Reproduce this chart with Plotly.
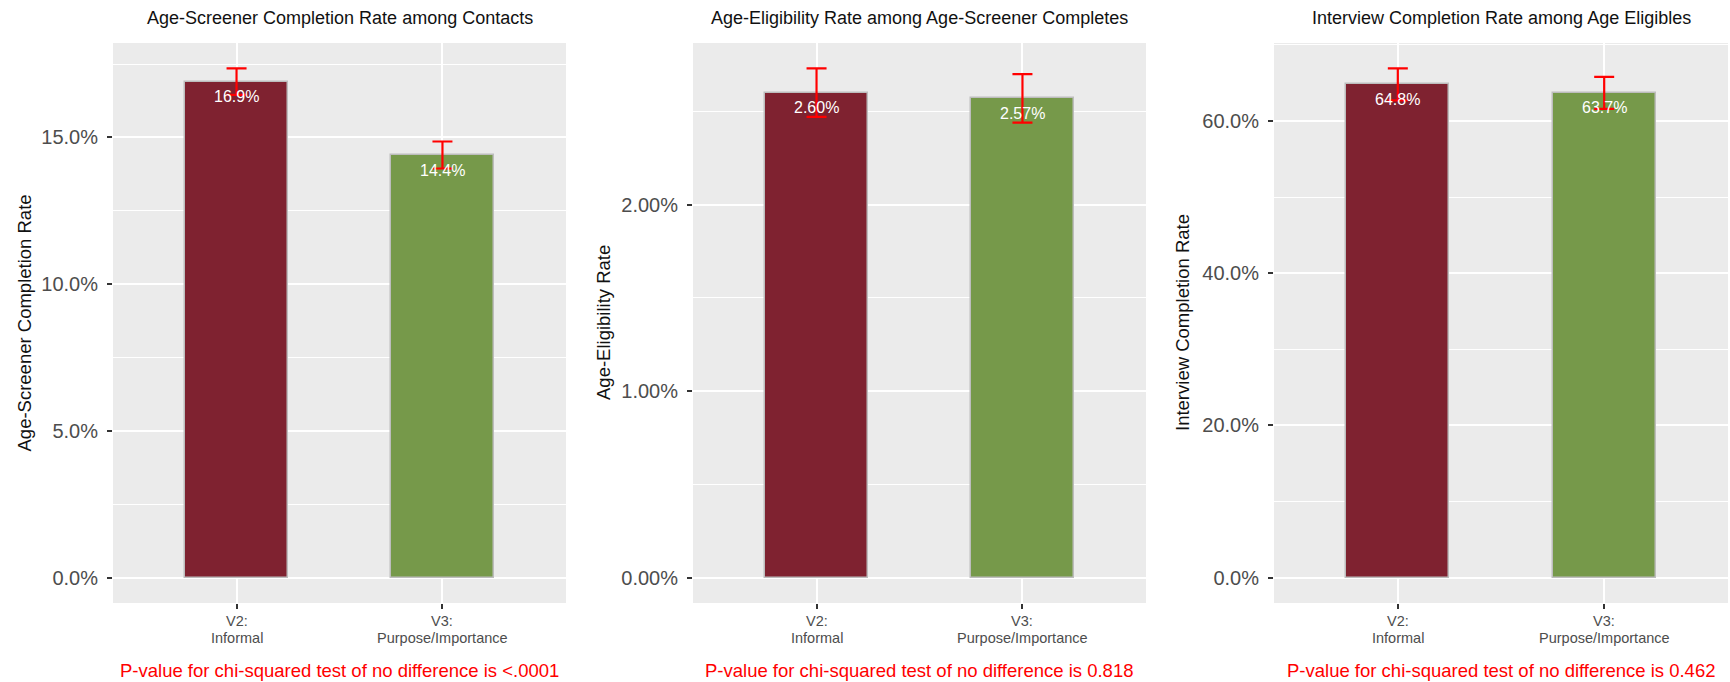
import plotly.graph_objects as go

# ---------------- data ----------------
categories = ["V2:<br>Informal", "V3:<br>Purpose/Importance"]

panel_titles = [
    "Age-Screener Completion Rate among Contacts",
    "Age-Eligibility Rate among Age-Screener Completes",
    "Interview Completion Rate among Age Eligibles",
]
y_titles = [
    "Age-Screener Completion Rate",
    "Age-Eligibility Rate",
    "Interview Completion Rate",
]
p_values = ["<.0001", "0.818", "0.462"]

screener_rate = [16.9, 14.4]
screener_err = [0.45, 0.46]
eligibility_rate = [2.60, 2.57]
eligibility_err = [0.13, 0.13]
interview_rate = [64.8, 63.7]
interview_err = [2.1, 2.1]

# ---------------- styling / layout ----------------
W, H = 1730, 682
FONT = "Liberation Sans, Arial, sans-serif"
bar_colors = ["#7F2230", "#76994A"]
panel_px = [(113, 566), (693, 1146), (1274, 1728)]
plot_top, plot_bottom = 43, 603
decimals = [1, 2, 1]
major_step = [5, 1, 20]
ytitle_x = [23.5, 603, 1182]
xlabel_line_y = [621, 638]

series = [
    (screener_rate, screener_err),
    (eligibility_rate, eligibility_err),
    (interview_rate, interview_err),
]

fig = go.Figure()
annotations = []
layout_axes = {}

for i, (vals, errs) in enumerate(series):
    n = "" if i == 0 else str(i + 1)
    xa, ya = "x" + n, "y" + n
    fig.add_trace(go.Bar(
        x=categories, y=vals, xaxis=xa, yaxis=ya, width=0.5,
        marker=dict(color=bar_colors, line=dict(color="#BDBDBD", width=1.5)),
        error_y=dict(type="data", array=errs, color="red", thickness=2.2, width=10),
        showlegend=False, hoverinfo="skip",
    ))
    ymax = max(v + e for v, e in zip(vals, errs))
    lo, hi = -0.05 * ymax, 1.05 * ymax
    l, r = panel_px[i]
    layout_axes["xaxis" + n] = dict(
        domain=[l / W, r / W], anchor=ya, type="category", range=[-0.6, 1.6],
        showgrid=True, gridcolor="white", gridwidth=1.8, zeroline=False, showline=False,
        ticks="outside", ticklen=5, tickwidth=1.5, tickcolor="#333333",
        showticklabels=False,
    )
    d = decimals[i]
    layout_axes["yaxis" + n] = dict(
        domain=[1 - plot_bottom / H, 1 - plot_top / H], anchor=xa, range=[lo, hi],
        tick0=0, dtick=major_step[i], tickformat=f".{d}f", ticksuffix="%",
        showgrid=True, gridcolor="white", gridwidth=1.8,
        zeroline=True, zerolinecolor="white", zerolinewidth=1.8, showline=False,
        minor=dict(tick0=0, dtick=major_step[i] / 2, showgrid=True,
                   gridcolor="white", gridwidth=0.9, ticks=""),
        ticks="outside", ticklen=5, tickwidth=1.5, tickcolor="#333333",
        ticklabelstandoff=5,
        tickfont=dict(size=20, color="#4D4D4D", family=FONT),
    )
    # category labels (two tight lines, as in the reference)
    for c in categories:
        for k, line in enumerate(c.split("<br>")):
            annotations.append(dict(
                x=c, y=1 - xlabel_line_y[k] / H, xref=xa, yref="paper", text=line,
                showarrow=False, xanchor="center", yanchor="middle",
                font=dict(size=14.5, color="#4D4D4D", family=FONT),
            ))
    # value labels inside bars
    for c, v in zip(categories, vals):
        annotations.append(dict(
            x=c, y=v, xref=xa, yref=ya, text=f"{v:.{d}f}%", showarrow=False,
            yanchor="middle", yshift=-15, font=dict(size=16, color="white", family=FONT),
        ))
    cx = (l + r) / 2 / W
    annotations.append(dict(
        x=cx, y=1 - 18 / H, xref="paper", yref="paper", text=panel_titles[i],
        showarrow=False, xanchor="center", yanchor="middle",
        font=dict(size=18, color="#111111", family=FONT),
    ))
    annotations.append(dict(
        x=cx, y=1 - 670 / H, xref="paper", yref="paper",
        text=f"P-value for chi-squared test of no difference is {p_values[i]}",
        showarrow=False, xanchor="center", yanchor="middle",
        font=dict(size=18.5, color="#FF0000", family=FONT),
    ))
    annotations.append(dict(
        x=ytitle_x[i] / W, y=1 - (plot_top + plot_bottom) / 2 / H, xref="paper", yref="paper",
        text=y_titles[i], textangle=-90, showarrow=False, xanchor="center", yanchor="middle",
        font=dict(size=18.5, color="#111111", family=FONT),
    ))

fig.update_layout(
    width=W, height=H, margin=dict(l=0, r=0, t=0, b=0),
    paper_bgcolor="white", plot_bgcolor="#EBEBEB",
    font=dict(family=FONT), annotations=annotations, bargap=0,
    **layout_axes,
)

fig.write_html("out.html")
